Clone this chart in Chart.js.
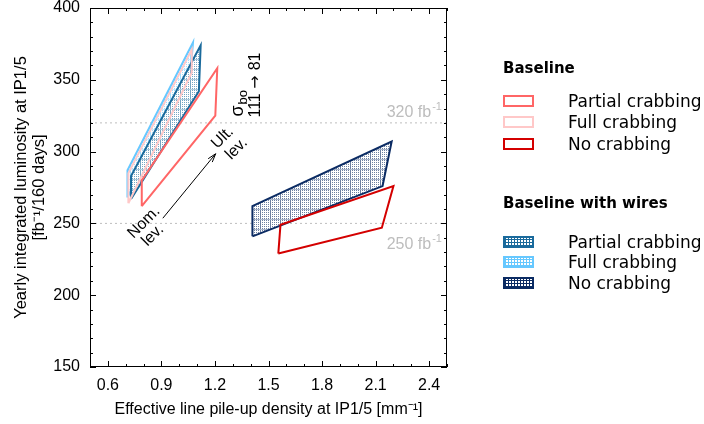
<!DOCTYPE html>
<html>
<head>
<meta charset="utf-8">
<script src="https://cdn.jsdelivr.net/npm/chart.js@4.4.1/dist/chart.umd.min.js"></script>
<style>
  body { margin: 0; background: #fff; }
  #wrap { position: relative; width: 704px; height: 424px; }
  #legend { position: absolute; left: 503px; top: 0; width: 201px; height: 424px; font-family: "DejaVu Sans", sans-serif; color: #000; }
  #legend .head { position: absolute; left: 0; font-weight: bold; font-size: 15px; line-height: 20px; white-space: nowrap; }
  #legend .row { position: absolute; left: 0; height: 20px; font-size: 17px; line-height: 20px; white-space: nowrap; }
  #legend .sw { position: absolute; left: 0; top: 4px; width: 27px; height: 8px; border: 2px solid; background: #fff; }
  #legend .lbl { position: absolute; left: 65px; top: 0; }
</style>
</head>
<body>
<div id="wrap">
  <canvas id="chart" width="704" height="424"></canvas>
  <div id="legend"></div>
</div>
<script>
// ---- valores ----
const xTicks = [0.6, 0.9, 1.2, 1.5, 1.8, 2.1, 2.4];
const yTicks = [150, 200, 250, 300, 350, 400];
const levelLines = [320, 250];

// cantos de cada polígono (x = pile-up density, y = luminosidade)
const basePartialX = [0.79, 0.79, 1.213, 1.202];
const basePartialY = [262, 280, 358, 325];
const baseFullX = [0.715, 0.715, 1.07, 1.07];
const baseFullY = [264, 285, 371, 355];
const baseNoneX = [1.555, 1.567, 2.20, 2.135];
const baseNoneY = [229, 249, 276, 247];
const wirePartialX = [0.73, 0.73, 1.12, 1.11];
const wirePartialY = [267, 283, 374, 342];
const wireFullX = [0.71, 0.71, 1.077, 1.064];
const wireFullY = [268, 287, 376, 357];
const wireNoneX = [1.41, 1.41, 2.19, 2.139];
const wireNoneY = [241, 262, 307, 276];

const arrowFrom = [0.908, 253.6];
const arrowTo = [1.204, 298.5];

const COLORS = {
    basePartial: '#ff6666',
    baseFull: '#ffc8c8',
    baseNone: '#d40000',
    wirePartial: '#1a6a9c',
    wireFull: '#66c8ff',
    wireNone: '#0b2b63'
};

// fecha o polígono repetindo o primeiro ponto
function poligono(xs, ys) {
    const pts = xs.map((x, i) => ({ x: x, y: ys[i] }));
    pts.push(pts[0]);
    return pts;
}

// padrão quadriculado para as áreas "with wires"
function hachura(cor) {
    const c = document.createElement('canvas');
    c.width = 10; c.height = 10;
    const g = c.getContext('2d');
    g.fillStyle = '#fff';
    g.fillRect(0, 0, 10, 10);
    g.fillStyle = cor;
    g.globalAlpha = 0.6;
    for (let x = 0; x < 9; x += 2) {
        for (let y = 0; y < 9; y++) {
            if ((x + y) % 2 === 0 || x === 0) g.fillRect(x, y, 1, 1);
        }
    }
    g.globalAlpha = 0.35;
    g.fillRect(0, 9, 10, 1);
    return g.createPattern(c, 'repeat');
}

function contorno(label, xs, ys, cor) {
    return {
        label: label,
        data: poligono(xs, ys),
        borderColor: cor,
        borderWidth: 2,
        pointRadius: 0,
        fill: false,
        tension: 0
    };
}

function area(label, xs, ys, cor) {
    return {
        label: label,
        data: poligono(xs, ys),
        borderColor: cor,
        borderWidth: 2,
        pointRadius: 0,
        backgroundColor: hachura(cor),
        fill: 'shape',
        tension: 0
    };
}

function linhaNivel(v) {
    return {
        label: v + ' fb-1',
        data: [{ x: 0.5, y: v }, { x: 2.5, y: v }],
        borderColor: '#bdbdbd',
        borderWidth: 1,
        borderDash: [2, 3],
        pointRadius: 0,
        fill: false
    };
}

// primeiro da lista = desenhado por cima
const datasets = [
    contorno('No crabbing', baseNoneX, baseNoneY, COLORS.baseNone),
    area('No crabbing (wires)', wireNoneX, wireNoneY, COLORS.wireNone),
    contorno('Partial crabbing', basePartialX, basePartialY, COLORS.basePartial),
    contorno('Full crabbing', baseFullX, baseFullY, COLORS.baseFull),
    area('Partial crabbing (wires)', wirePartialX, wirePartialY, COLORS.wirePartial),
    area('Full crabbing (wires)', wireFullX, wireFullY, COLORS.wireFull)
].concat(levelLines.map(linhaNivel));

const FONTE = '"Liberation Sans", Arial, sans-serif';

function textoSup(ctx, base, sup, x, y, alinhamento) {
    ctx.font = '16px ' + FONTE;
    const wb = ctx.measureText(base).width;
    ctx.font = '11px ' + FONTE;
    const ws = ctx.measureText(sup).width;
    let x0 = alinhamento === 'right' ? x - wb - ws : x;
    ctx.textAlign = 'left';
    ctx.textBaseline = 'alphabetic';
    ctx.font = '16px ' + FONTE;
    ctx.fillText(base, x0, y);
    ctx.font = '11px ' + FONTE;
    ctx.fillText(sup, x0 + wb + 1, y - 7);
}

function rotulo(ctx, texto, px, py, ang) {
    ctx.save();
    ctx.translate(px, py);
    ctx.rotate(ang);
    ctx.textAlign = 'center';
    ctx.textBaseline = 'middle';
    ctx.fillText(texto, 0, 0);
    ctx.restore();
}

// moldura, marcas dos eixos e anotações
const anotacoes = {
    id: 'anotacoes',
    afterDraw(chart) {
        const { ctx, chartArea: a, scales: { x, y } } = chart;
        ctx.save();
        ctx.strokeStyle = '#000';
        ctx.lineWidth = 1;
        ctx.beginPath();
        for (let i = 5; i <= 25; i++) {
            const v = i / 10;
            const px = Math.round(x.getPixelForValue(v)) + 0.5;
            const major = xTicks.some(t => Math.abs(t - v) < 1e-6);
            const len = major ? 6 : 3;
            ctx.moveTo(px, a.bottom); ctx.lineTo(px, a.bottom - len);
            ctx.moveTo(px, a.top); ctx.lineTo(px, a.top + len);
        }
        for (let v = 150; v <= 400; v += 10) {
            const py = Math.round(y.getPixelForValue(v)) + 0.5;
            const len = v % 50 === 0 ? 6 : 3;
            ctx.moveTo(a.left, py); ctx.lineTo(a.left + len, py);
            ctx.moveTo(a.right, py); ctx.lineTo(a.right - len, py);
        }
        ctx.stroke();
        ctx.strokeRect(Math.round(a.left) + 0.5, Math.round(a.top) + 0.5,
                       Math.round(a.width) - 1, Math.round(a.height) - 1);

        // níveis 320 / 250
        ctx.fillStyle = '#bdbdbd';
        textoSup(ctx, '320 fb', '-1', x.getPixelForValue(2.466), y.getPixelForValue(324.4), 'right');
        textoSup(ctx, '250 fb', '-1', x.getPixelForValue(2.466), y.getPixelForValue(231.9), 'right');

        // textos girados
        ctx.fillStyle = '#000';
        ctx.font = '16px ' + FONTE;
        rotulo(ctx, 'Ult.', x.getPixelForValue(1.243), y.getPixelForValue(309.7), -Math.PI / 4);
        rotulo(ctx, 'lev.', x.getPixelForValue(1.321), y.getPixelForValue(302.0), -Math.PI / 4);
        rotulo(ctx, 'Nom.', x.getPixelForValue(0.802), y.getPixelForValue(250.8), -Math.PI / 4);
        rotulo(ctx, 'lev.', x.getPixelForValue(0.852), y.getPixelForValue(241.7), -Math.PI / 4);

        // sigma_bo 111 -> 81
        ctx.save();
        ctx.translate(x.getPixelForValue(1.332), y.getPixelForValue(324.4));
        ctx.rotate(-Math.PI / 2);
        ctx.textAlign = 'left';
        ctx.textBaseline = 'middle';
        ctx.font = '18px ' + FONTE;
        ctx.fillText('σ', 0, 0);
        const ws = ctx.measureText('σ').width;
        ctx.font = '13px ' + FONTE;
        ctx.fillText('bo', ws + 1, 5);
        ctx.restore();
        ctx.save();
        ctx.translate(x.getPixelForValue(1.427), y.getPixelForValue(323.7));
        ctx.rotate(-Math.PI / 2);
        ctx.textAlign = 'left';
        ctx.textBaseline = 'middle';
        ctx.font = '16px ' + FONTE;
        ctx.fillText('111', 0, 0);
        let w = ctx.measureText('111 ').width;
        ctx.font = '16px "DejaVu Sans", sans-serif';
        ctx.fillText('→', w, 0);
        w += ctx.measureText('→ ').width;
        ctx.font = '16px ' + FONTE;
        ctx.fillText('81', w, 0);
        ctx.restore();

        // seta Nom. -> Ult.
        const x0 = x.getPixelForValue(arrowFrom[0]), y0 = y.getPixelForValue(arrowFrom[1]);
        const x1 = x.getPixelForValue(arrowTo[0]), y1 = y.getPixelForValue(arrowTo[1]);
        const ang = Math.atan2(y1 - y0, x1 - x0);
        ctx.strokeStyle = '#000';
        ctx.lineWidth = 1;
        ctx.beginPath();
        ctx.moveTo(x0, y0); ctx.lineTo(x1, y1);
        ctx.moveTo(x1 - 9 * Math.cos(ang - 0.3), y1 - 9 * Math.sin(ang - 0.3));
        ctx.lineTo(x1, y1);
        ctx.lineTo(x1 - 9 * Math.cos(ang + 0.3), y1 - 9 * Math.sin(ang + 0.3));
        ctx.stroke();
        ctx.restore();
    }
};

new Chart(document.getElementById('chart'), {
    type: 'line',
    data: { datasets: datasets },
    options: {
        responsive: false,
        animation: false,
        devicePixelRatio: 1,
        layout: { padding: { left: 0, right: 257, top: 8, bottom: 0 } },
        plugins: {
            legend: { display: false },
            tooltip: { enabled: false },
            filler: { drawTime: 'beforeDatasetDraw' }
        },
        scales: {
            x: {
                type: 'linear',
                min: 0.5,
                max: 2.5,
                afterBuildTicks: s => { s.ticks = xTicks.map(v => ({ value: v })); },
                afterFit: s => { s.height = 57; s.paddingLeft = 0; s.paddingRight = 0; },
                grid: { display: false, drawTicks: false },
                border: { display: false },
                ticks: {
                    padding: 9,
                    color: '#000',
                    font: { family: FONTE, size: 16 },
                    callback: v => v.toFixed(1)
                },
                title: {
                    display: true,
                    text: 'Effective line pile-up density at IP1/5 [mm⁻¹]',
                    color: '#000',
                    font: { family: FONTE, size: 16 },
                    padding: { top: 0, bottom: 5 }
                }
            },
            y: {
                type: 'linear',
                min: 150,
                max: 400,
                afterBuildTicks: s => { s.ticks = yTicks.map(v => ({ value: v })); },
                afterFit: s => { s.width = 90; s.paddingTop = 0; s.paddingBottom = 0; },
                grid: { display: false, drawTicks: false },
                border: { display: false },
                ticks: {
                    padding: 10,
                    color: '#000',
                    font: { family: FONTE, size: 16 }
                },
                title: {
                    display: true,
                    text: ['Yearly integrated luminosity at IP1/5', '[fb⁻¹/160 days]'],
                    color: '#000',
                    font: { family: FONTE, size: 16.5, lineHeight: 1.1 },
                    padding: { top: 12, bottom: 0 }
                }
            }
        }
    },
    plugins: [anotacoes]
});

// legenda em HTML
const grupos = [
    { titulo: 'Baseline', top: 58, itens: [
        ['Partial crabbing', COLORS.basePartial, false],
        ['Full crabbing', COLORS.baseFull, false],
        ['No crabbing', COLORS.baseNone, false]
    ] },
    { titulo: 'Baseline with wires', top: 193, itens: [
        ['Partial crabbing', COLORS.wirePartial, true],
        ['Full crabbing', COLORS.wireFull, true],
        ['No crabbing', COLORS.wireNone, true]
    ] }
];
const itemTops = [[91, 112, 134], [232, 252, 273]];
const leg = document.getElementById('legend');
grupos.forEach((g, gi) => {
    leg.insertAdjacentHTML('beforeend', `<div class="head" style="top:${g.top}px">${g.titulo}</div>`);
    g.itens.forEach((it, i) => {
        const fundo = it[2]
            ? `background-color:#fff;background-image:repeating-linear-gradient(90deg, ${it[1]} 0 1px, transparent 1px 3px),repeating-linear-gradient(0deg, ${it[1]} 0 1px, transparent 1px 3px);`
            : '';
        leg.insertAdjacentHTML('beforeend',
            `<div class="row" style="top:${itemTops[gi][i]}px"><div class="sw" style="border-color:${it[1]};${fundo}"></div><span class="lbl">${it[0]}</span></div>`);
    });
});
</script>
</body>
</html>
